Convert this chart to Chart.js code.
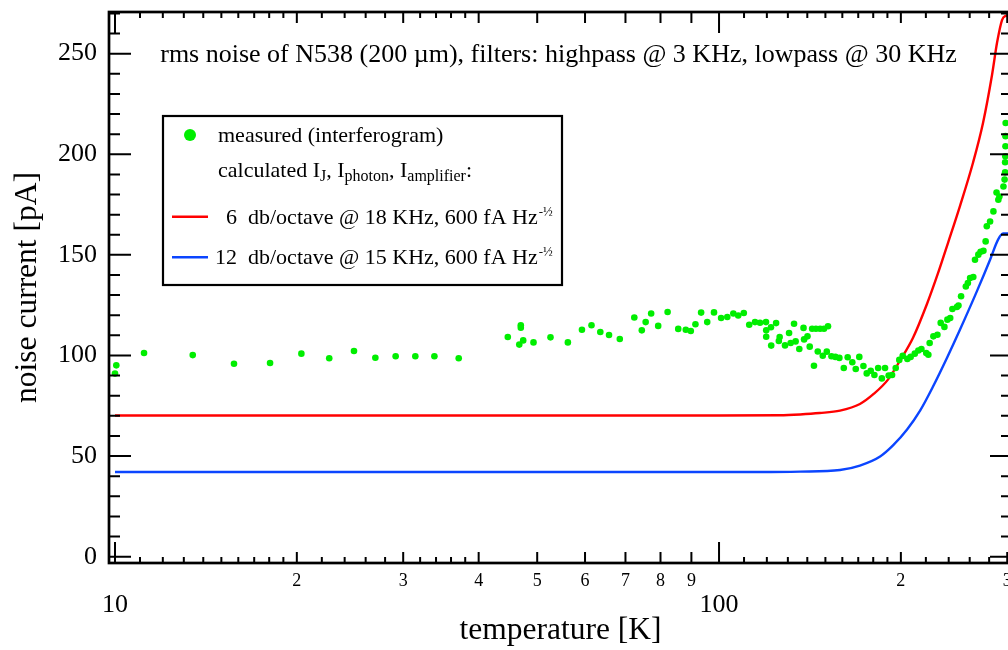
<!DOCTYPE html>
<html>
<head>
<meta charset="utf-8">
<script src="https://cdn.jsdelivr.net/npm/chart.js@4.4.1/dist/chart.umd.min.js"></script>
<style>
  html, body { margin: 0; padding: 0; background: #fff; overflow: hidden; }
  #wrap { width: 1008px; height: 650px; overflow: hidden; position: relative; }
  canvas { display: block; }
</style>
</head>
<body>
<div id="wrap"><canvas id="noise" width="1024" height="650"></canvas></div>
<script>
// ---- measured rms noise (interferogram), temperature [K] / current [pA]
const measuredT = [10.0, 10.05, 11.17, 13.45, 15.74, 18.06, 20.35, 22.63, 24.87, 26.98, 29.15, 31.42, 33.79, 37.07,
  44.7, 46.7, 46.97, 46.97, 47.4, 49.3, 52.6, 56.2, 59.3, 61.5, 63.6, 65.75, 68.5, 72.4, 74.5, 75.6, 77.2, 79.3,
  82.2, 85.6, 88.1, 89.8, 91.4, 93.4, 95.6, 98.1, 100.8, 103.2, 105.6, 107.6, 109.9, 112.2, 114.7, 116.9, 119.6,
  119.7, 119.7, 121.9, 122.0, 124.3, 125.6, 126.0, 128.6, 130.6, 131.4, 133.1, 133.9, 135.8, 138.0, 138.3, 140.1,
  141.3, 142.6, 143.6, 144.7, 145.7, 147.0, 148.5, 149.2, 150.8, 151.5, 153.5, 155.8, 158.2, 160.9, 163.3, 166.2,
  168.4, 170.7, 173.4, 175.6, 178.3, 180.8, 183.4, 186.0, 188.3, 190.9, 193.4, 196.1, 198.8, 201.4, 205.0, 207.6,
  210.9, 213.8, 216.3, 220.3, 222.1, 223.2, 226.4, 229.9, 232.8, 236.1, 238.8, 241.4, 243.4, 247.6, 249.1, 251.6,
  256.2, 258.2, 260.4, 263.6, 265.3, 268.7, 271.0, 274.0, 276.3, 277.5, 281.0, 284.6, 288.0, 290.0, 291.2, 295.7,
  297.0, 297.6, 297.6, 297.8, 298.0, 298.0, 298.2];
const measuredI = [91.0, 95.1, 101.2, 100.2, 95.9, 96.3, 100.9, 98.6, 102.2, 98.9, 99.6, 99.6, 99.6, 98.6,
  109.2, 105.4, 115.0, 113.8, 107.5, 106.5, 109.0, 106.5, 112.8, 115.0, 111.7, 110.2, 108.2, 118.9, 112.5, 116.6, 120.9, 114.7,
  121.6, 113.2, 112.8, 112.2, 115.5, 121.3, 116.6, 121.4, 118.6, 119.1, 120.9, 119.9, 121.1, 115.3, 116.6, 116.3, 116.6,
  112.5, 109.3, 114.0, 104.9, 116.1, 107.2, 109.2, 105.0, 111.2, 106.2, 115.8, 107.0, 103.2, 113.7, 108.0, 109.5,
  104.4, 113.3, 94.9, 113.3, 102.0, 113.3, 99.9, 113.3, 101.9, 114.5, 99.6, 99.3, 98.8, 93.8, 99.1, 96.6,
  93.3, 99.3, 94.8, 91.1, 92.4, 90.3, 93.8, 88.6, 93.8, 90.0, 90.3, 93.8, 97.8, 99.8, 98.3, 99.3,
  100.9, 102.5, 103.2, 101.2, 100.4, 106.2, 109.5, 110.3, 116.2, 114.2, 117.8, 118.6, 123.1, 124.1, 124.8, 129.4,
  134.3, 136.0, 138.5, 139.0, 147.6, 150.1, 151.5, 152.0, 156.7, 164.2, 166.6, 171.6, 181.0, 177.4, 179.0, 184.0,
  187.4, 191.0, 196.0, 199.0, 204.0, 209.0, 215.5];

// ---- calculated I_J + I_photon + I_amplifier, 6 db/octave @ 18 KHz
const curve6dbT = [10, 100, 126, 136.2, 146.8, 158.6, 171.1, 180.5, 190.4, 199.3, 209.5, 221.0, 230.5, 239.4,
  250.6, 263.3, 273.6, 283.1, 288.6, 294.1, 297.5, 305.5];
const curve6dbI = [70.2, 70.2, 70.3, 70.7, 71.4, 72.6, 75.9, 81.0, 88.0, 97.4, 108.8, 125.7, 141.0, 156.0,
  174.4, 195.8, 215.7, 239.4, 255.5, 266.7, 268.6, 269.1];

// ---- calculated, 12 db/octave @ 15 KHz
const curve12dbT = [10, 100, 116.9, 136.2, 158.6, 171.1, 184.8, 194.1, 204.8, 215.2, 226.1, 238.5, 250.6,
  267.4, 281.0, 289.7, 295.3, 305.5];
const curve12dbI = [42.1, 42.1, 42.1, 42.3, 43.1, 45.3, 49.8, 55.3, 63.2, 72.6, 84.6, 98.9, 112.9,
  132.1, 147.6, 157.6, 160.6, 160.6];

// ---- axis ticks
const xTickValues = [10, 20, 30, 40, 50, 60, 70, 80, 90, 100, 200, 300];
const xTickLabels = ['10', '2', '3', '4', '5', '6', '7', '8', '9', '100', '2', '3'];
const xDecades = [10, 100];
const xMinorTicks = [11, 12, 13, 14, 15, 16, 17, 18, 19, 22, 24, 26, 28, 32, 34, 36, 38,
  110, 120, 130, 140, 150, 160, 170, 180, 190, 220, 240, 260, 280];
const yTickValues = [0, 50, 100, 150, 200, 250];
const yMinorTicks = [10, 20, 30, 40, 60, 70, 80, 90, 110, 120, 130, 140, 160, 170, 180, 190, 210, 220, 230, 240, 260, 270];

const FONT = "'Liberation Serif', 'Times New Roman', serif";
const GREEN = 'rgb(0,238,0)';
const RED = '#ff0000';
const BLUE = '#0b45ff';

const toPoints = (xs, ys) => xs.map((x, i) => ({ x: x, y: ys[i] }));

// frame with inward-pointing ticks on all four sides
const frameTicks = {
  id: 'frameTicks',
  afterDatasetsDraw(chart) {
    const { ctx, chartArea: a, scales } = chart;
    const xs = scales.x, ys = scales.y;
    ctx.save();
    ctx.strokeStyle = '#000';
    ctx.lineWidth = 2;
    ctx.lineCap = 'butt';
    const vTick = (v, len) => {
      const px = xs.getPixelForValue(v);
      ctx.beginPath();
      ctx.moveTo(px, a.bottom); ctx.lineTo(px, a.bottom - len);
      ctx.moveTo(px, a.top); ctx.lineTo(px, a.top + len);
      ctx.stroke();
    };
    const hTick = (v, len) => {
      const py = ys.getPixelForValue(v);
      ctx.beginPath();
      ctx.moveTo(a.left, py); ctx.lineTo(a.left + len, py);
      ctx.moveTo(a.right, py); ctx.lineTo(a.right - len, py);
      ctx.stroke();
    };
    xMinorTicks.forEach(v => vTick(v, 6));
    xTickValues.forEach(v => vTick(v, xDecades.includes(v) ? 21 : 11));
    yMinorTicks.forEach(v => hTick(v, 11));
    yTickValues.forEach(v => hTick(v, 22));
    ctx.lineWidth = 2.7;
    ctx.strokeRect(a.left, a.top, a.right - a.left, a.bottom - a.top);
    ctx.restore();
  }
};

// draws a row of text pieces; each piece may be raised or lowered
function drawRuns(ctx, x, y, runs) {
  runs.forEach(r => {
    ctx.font = (r.size) + 'px ' + FONT;
    ctx.fillText(r.t, x, y + (r.dy || 0));
    x += ctx.measureText(r.t).width;
  });
  return x;
}

const plotTitle = {
  id: 'plotTitle',
  afterDraw(chart) {
    const { ctx, chartArea: a } = chart;
    ctx.save();
    ctx.fillStyle = '#000';
    ctx.textAlign = 'center';
    ctx.textBaseline = 'alphabetic';
    ctx.font = '26px ' + FONT;
    ctx.fillText('rms noise of N538 (200 µm), filters: highpass @ 3 KHz, lowpass @ 30 KHz',
      (a.left + a.right) / 2 - 2, a.top + 49.7);
    ctx.restore();
  }
};

const boxLegend = {
  id: 'boxLegend',
  afterDraw(chart) {
    const { ctx, chartArea: a } = chart;
    const ds = chart.data.datasets;
    const bx = a.left + 54, by = a.top + 104, bw = 399, bh = 169;
    const tx = bx + 55;
    const S = 22, s = 16, ss = 13;
    ctx.save();
    ctx.fillStyle = '#fff';
    ctx.fillRect(bx, by, bw, bh);
    ctx.lineWidth = 2.2;
    ctx.strokeStyle = '#000';
    ctx.strokeRect(bx, by, bw, bh);

    ctx.textAlign = 'left';
    ctx.textBaseline = 'alphabetic';
    ctx.fillStyle = '#000';

    // measured
    ctx.fillStyle = ds[0].pointBackgroundColor;
    ctx.beginPath();
    ctx.arc(bx + 27, by + 19, 6, 0, Math.PI * 2);
    ctx.fill();
    ctx.fillStyle = '#000';
    drawRuns(ctx, tx, by + 25.7, [{ t: ds[0].label, size: S }]);

    // calculated heading
    drawRuns(ctx, tx, by + 61.3, [
      { t: 'calculated I', size: S }, { t: 'J', size: s, dy: 4 },
      { t: ', I', size: S }, { t: 'photon', size: s, dy: 4 },
      { t: ', I', size: S }, { t: 'amplifier', size: s, dy: 4 },
      { t: ':', size: S }
    ]);

    // line entries
    const lineRow = (d, yMid, yBase, num) => {
      ctx.strokeStyle = d.borderColor;
      ctx.lineWidth = 2.5;
      ctx.beginPath();
      ctx.moveTo(bx + 9, yMid); ctx.lineTo(bx + 45, yMid);
      ctx.stroke();
      ctx.font = S + 'px ' + FONT;
      const numEnd = bx + 74;
      ctx.textAlign = 'right';
      ctx.fillText(num, numEnd, yBase);
      ctx.textAlign = 'left';
      const x = drawRuns(ctx, bx + 85, yBase, [{ t: d.label.replace(/^\d+ /, ''), size: S }]);
      drawRuns(ctx, x + 1, yBase, [{ t: '-½', size: ss, dy: -8 }]);
    };
    lineRow(ds[1], by + 100.7, by + 108, '6');
    lineRow(ds[2], by + 141.3, by + 148, '12');
    ctx.restore();
  }
};

new Chart(document.getElementById('noise'), {
  type: 'scatter',
  data: {
    datasets: [
      {
        label: 'measured (interferogram)',
        data: toPoints(measuredT, measuredI),
        showLine: false,
        pointRadius: 3.3,
        pointBackgroundColor: GREEN,
        pointBorderWidth: 0,
        pointBorderColor: GREEN,
        order: 0
      },
      {
        label: '6 db/octave @ 18 KHz, 600 fA Hz',
        data: toPoints(curve6dbT, curve6dbI),
        showLine: true,
        borderColor: RED,
        borderWidth: 2.4,
        pointRadius: 0,
        cubicInterpolationMode: 'monotone',
        order: 1
      },
      {
        label: '12 db/octave @ 15 KHz, 600 fA Hz',
        data: toPoints(curve12dbT, curve12dbI),
        showLine: true,
        borderColor: BLUE,
        borderWidth: 2.4,
        pointRadius: 0,
        cubicInterpolationMode: 'monotone',
        order: 2
      }
    ]
  },
  options: {
    responsive: false,
    animation: false,
    devicePixelRatio: 1,
    layout: { padding: { left: 0, right: 12, top: 12, bottom: 0 } },
    plugins: { legend: { display: false }, tooltip: { enabled: false } },
    scales: {
      x: {
        type: 'logarithmic',
        min: 9.774,
        max: 305.5,
        grid: { display: false, drawTicks: false },
        border: { display: false },
        afterBuildTicks: (s) => { s.ticks = xTickValues.map(v => ({ value: v })); },
        afterFit: (s) => { s.height = 87; s.paddingLeft = 0; s.paddingRight = 0; },
        ticks: {
          autoSkip: false,
          maxRotation: 0,
          minRotation: 0,
          padding: 7.2,
          color: '#000',
          callback: (v) => {
            const lbl = xTickLabels[xTickValues.indexOf(v)];
            return xDecades.includes(v) ? ['', lbl] : lbl;
          },
          font: (c) => (c.tick && xDecades.includes(c.tick.value))
            ? { family: FONT, size: 26, lineHeight: 0.9 }
            : { family: FONT, size: 18, lineHeight: 1.2 }
        },
        title: {
          display: true,
          text: 'temperature [K]',
          color: '#000',
          font: { family: FONT, size: 31.5, lineHeight: 1.2 },
          padding: { top: 0, bottom: 0 }
        }
      },
      y: {
        type: 'linear',
        min: -3.13,
        max: 270.7,
        grid: { display: false, drawTicks: false },
        border: { display: false },
        afterBuildTicks: (s) => { s.ticks = yTickValues.map(v => ({ value: v })); },
        afterFit: (s) => { s.width = 109; s.paddingTop = 0; s.paddingBottom = 0; },
        ticks: {
          padding: 12,
          color: '#000',
          font: { family: FONT, size: 26 }
        },
        title: {
          display: true,
          text: 'noise current [pA]',
          color: '#000',
          font: { family: FONT, size: 31.5, lineHeight: 1.2 },
          padding: { top: 9, bottom: 0 }
        }
      }
    }
  },
  plugins: [frameTicks, plotTitle, boxLegend]
});
</script>
</body>
</html>
